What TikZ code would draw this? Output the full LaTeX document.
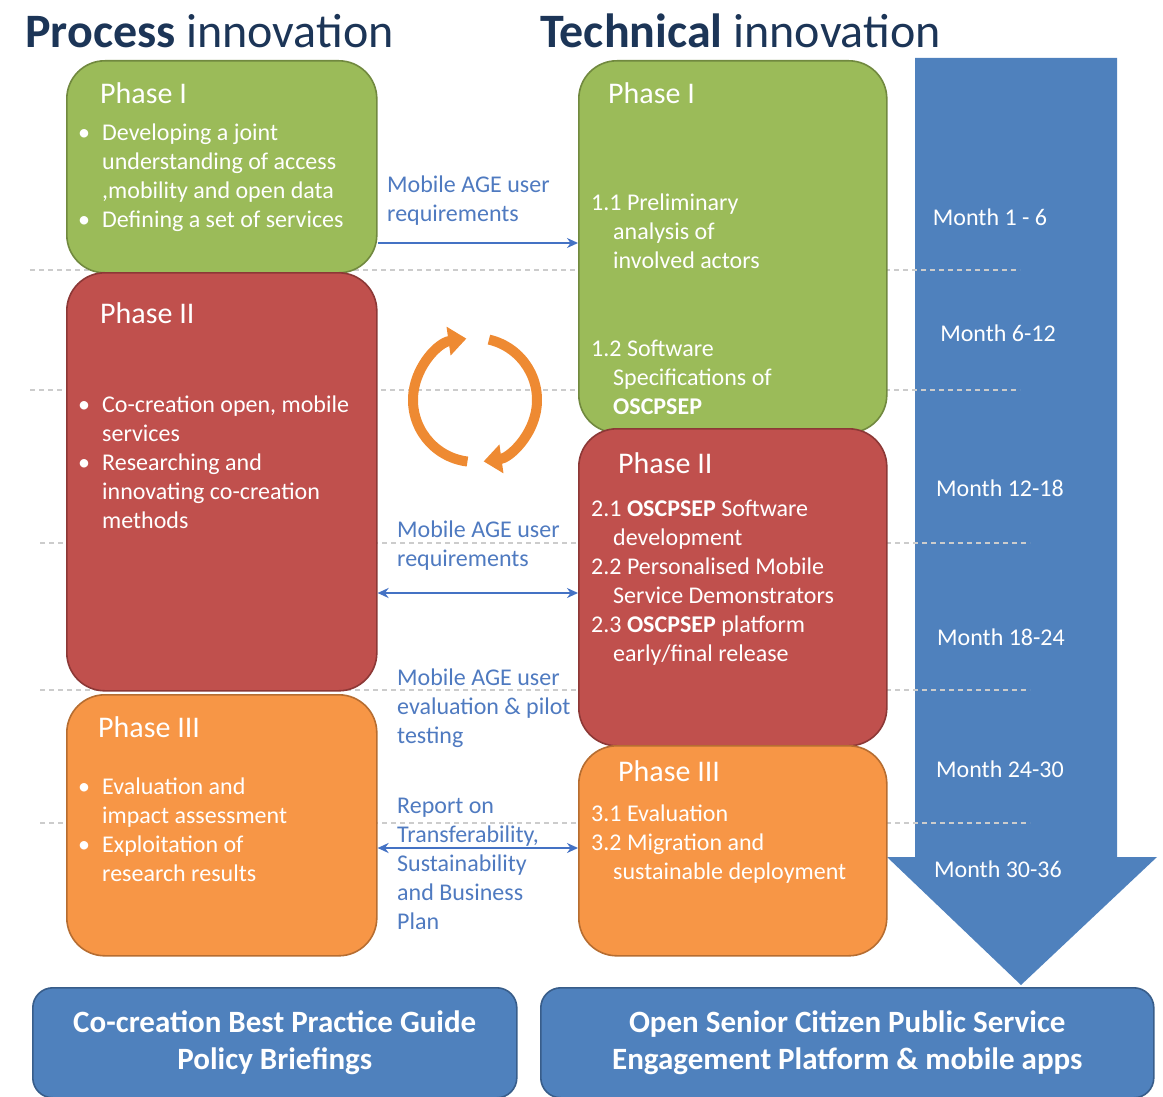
\documentclass[tikz,border=0pt]{standalone}
\usepackage{fontspec}
\setmainfont{Carlito}
\usetikzlibrary{arrows.meta}

\definecolor{pgreen}{HTML}{9BBB59}
\definecolor{pgreenD}{HTML}{71893F}
\definecolor{pred}{HTML}{C0504D}
\definecolor{predD}{HTML}{8C3836}
\definecolor{porange}{HTML}{F79646}
\definecolor{porangeD}{HTML}{B66D31}
\definecolor{pblue}{HTML}{4F81BD}
\definecolor{pblueD}{HTML}{385D8A}
\definecolor{linkblue}{HTML}{4472C4}
\definecolor{labelblue}{HTML}{4F7AC0}
\definecolor{navy}{HTML}{1C3557}
\definecolor{cyc}{HTML}{EE8A32}
\definecolor{dotgray}{HTML}{CCCCCC}

\begin{document}
\begin{tikzpicture}[x=1pt,y=-1pt,
  phasebox/.style={draw, line width=1.6pt, rounded corners=38pt, anchor=north west, inner sep=0pt},
  outbox/.style={draw=pblueD, fill=pblue, line width=1.6pt, rounded corners=20pt, anchor=north west,
                 inner sep=0pt, text=white, align=center, font=\fontsize{31}{37}\selectfont\bfseries},
  heading/.style={anchor=west, inner sep=0pt, text=white, font=\fontsize{30}{36}\selectfont},
  body/.style={anchor=north west, inner sep=0pt, text=white, align=left,
               font=\fontsize{24}{29}\selectfont, execute at begin node=\strut},
  linklabel/.style={body, text=labelblue},
  month/.style={inner sep=0pt, text=white, font=\fontsize{24}{29}\selectfont},
  title/.style={anchor=west, inner sep=0pt, text=navy, font=\fontsize{48}{54}\selectfont},
  link/.style={draw=linkblue, line width=2.6pt},
  tipR/.style={-{Stealth[length=11pt,width=10pt]}},
  tipLR/.style={{Stealth[length=11pt,width=10pt]}-{Stealth[length=11pt,width=10pt]}},
  grid/.style={draw=dotgray, line width=2.4pt, dash pattern=on 5pt off 4pt},
  cycarrow/.style={draw=cyc, line width=10pt, -{Triangle[width=28pt,length=18pt]}}
]
\useasboundingbox (0,0) rectangle (1163,1097);

% timeline arrow
\fill[pblue] (915,58) -- (1117,58) -- (1117,857) -- (1157,857) -- (1021,985)
  -- (887,857) -- (915,857) -- cycle;

% half-year separators
\draw[grid] (30,270) -- (1020,270);
\draw[grid] (30,390) -- (1020,390);
\draw[grid] (40,543) -- (1030,543);
\draw[grid] (40,690) -- (1030,690);
\draw[grid] (40,823) -- (1030,823);

% titles
\node[title] (tproc) at (25,31) {\textbf{Process} innovation};
\node[title] (ttech) at (540,31) {\textbf{Technical} innovation};

% process innovation phases
\node[phasebox, draw=pgreenD, fill=pgreen, minimum width=310pt, minimum height=212pt] (lp1) at (66,60) {};
\node[phasebox, draw=predD, fill=pred, minimum width=310pt, minimum height=418pt] (lp2) at (66,272) {};
\node[phasebox, draw=porangeD, fill=porange, minimum width=310pt, minimum height=261pt] (lp3) at (66,694) {};

% technical innovation phases
\node[phasebox, draw=pgreenD, fill=pgreen, minimum width=308pt, minimum height=372pt] (rp1) at (578,60) {};
\node[phasebox, draw=predD, fill=pred, minimum width=308pt, minimum height=317pt] (rp2) at (578,428) {};
\node[phasebox, draw=porangeD, fill=porange, minimum width=308pt, minimum height=210pt] (rp3) at (578,745) {};

% results
\node[outbox, minimum width=484pt, minimum height=110pt] (res1) at (32,987)
  {Co-creation Best Practice Guide\\Policy Briefings};
\node[outbox, minimum width=613pt, minimum height=110pt] (res2) at (540,987)
  {Open Senior Citizen Public Service\\Engagement Platform \& mobile apps};

% phase texts, process side
\node[heading] (lp1h) at (100,93) {Phase I};
\node[body] (lp1t) at (78,124) {%
  \makebox[24pt][l]{•}Developing a joint\\
  \hspace*{24pt}understanding of access\\
  \hspace*{24pt},mobility and open data\\
  \makebox[24pt][l]{•}Defining a set of services};
\node[heading] (lp2h) at (100,313) {Phase II};
\node[body] (lp2t) at (78,396) {%
  \makebox[24pt][l]{•}Co-creation open, mobile\\
  \hspace*{24pt}services\\
  \makebox[24pt][l]{•}Researching and\\
  \hspace*{24pt}innovating co-creation\\
  \hspace*{24pt}methods};
\node[heading] (lp3h) at (98,727) {Phase III};
\node[body] (lp3t) at (78,778) {%
  \makebox[24pt][l]{•}Evaluation and\\
  \hspace*{24pt}impact assessment\\
  \makebox[24pt][l]{•}Exploitation of\\
  \hspace*{24pt}research results};

% phase texts, technical side
\node[heading] (rp1h) at (608,93) {Phase I};
\node[body] (rp1a) at (591,194) {%
  1.1 Preliminary\\
  \hspace*{22pt}analysis of\\
  \hspace*{22pt}involved actors};
\node[body] (rp1b) at (591,340) {%
  1.2 Software\\
  \hspace*{22pt}Specifications of\\
  \hspace*{22pt}\textbf{OSCPSEP}};
\node[heading] (rp2h) at (618,463) {Phase II};
\node[body] (rp2t) at (591,500) {%
  2.1 \textbf{OSCPSEP} Software\\
  \hspace*{22pt}development\\
  2.2 Personalised Mobile\\
  \hspace*{22pt}Service Demonstrators\\
  2.3 \textbf{OSCPSEP} platform\\
  \hspace*{22pt}early/final release};
\node[heading] (rp3h) at (618,771) {Phase III};
\node[body] (rp3t) at (591,805) {%
  3.1 Evaluation\\
  3.2 Migration and\\
  \hspace*{22pt}sustainable deployment};

% months
\node[month] (m1) at (990,217) {Month 1 - 6};
\node[month] (m2) at (998,333) {Month 6-12};
\node[month] (m3) at (1000,488) {Month 12-18};
\node[month] (m4) at (1001,637) {Month 18-24};
\node[month] (m5) at (1000,769) {Month 24-30};
\node[month] (m6) at (998,869) {Month 30-36};

% exchanges between the two strands
\node[linklabel] (l1) at (387,176) {Mobile AGE user\\requirements};
\node[linklabel] (l2) at (397,521) {Mobile AGE user\\requirements};
\node[linklabel] (l3) at (397,669) {Mobile AGE user\\evaluation \& pilot\\testing};
\node[linklabel] (l4) at (397,798) {Report on\\Transferability,\\Sustainability\\and Business\\Plan};

\draw[link, tipR] (lp1.east |- 0,243) -- (rp1.west |- 0,243);
\draw[link, tipLR] (lp2.east |- 0,593) -- (rp2.west |- 0,593);
\draw[link, tipLR] (lp3.east |- 0,848) -- (rp3.west |- 0,848);

% co-creation cycle
\coordinate (cc) at (475,400);
\draw[cycarrow] ([shift={(97:62)}]cc) arc[start angle=97, end angle=262, radius=62];
\draw[cycarrow] ([shift={(283:62)}]cc) arc[start angle=283, end angle=442, radius=62];
\end{tikzpicture}
\end{document}
